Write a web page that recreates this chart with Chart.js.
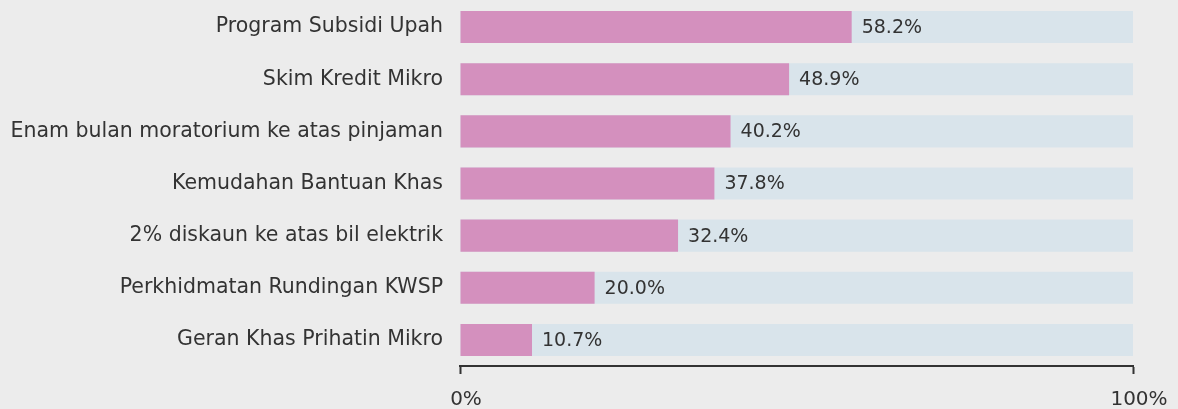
<!DOCTYPE html>
<html>
<head>
<meta charset="utf-8">
<script src="https://cdn.jsdelivr.net/npm/chart.js@4"></script>
<style>
  html, body { margin: 0; padding: 0; background: #ececec; }
  #wrap { width: 1178px; height: 409px; }
</style>
</head>
<body>
<div id="wrap"><canvas id="chart"></canvas></div>
<script>
// survey: use of government aid programmes
const labels = [
  'Program Subsidi Upah',
  'Skim Kredit Mikro',
  'Enam bulan moratorium ke atas pinjaman',
  'Kemudahan Bantuan Khas',
  '2% diskaun ke atas bil elektrik',
  'Perkhidmatan Rundingan KWSP',
  'Geran Khas Prihatin Mikro'
];
const shares = [58.2, 48.9, 40.2, 37.8, 32.4, 20.0, 10.7];
const track = [100, 100, 100, 100, 100, 100, 100];
const xTicks = [0, 100];

const FONT = 'DejaVu Sans';
const TEXT = '#333333';

// draws the value next to the end of each pink bar
const valueLabels = {
  id: 'valueLabels',
  afterDatasetsDraw(chart) {
    const ctx = chart.ctx;
    const meta = chart.getDatasetMeta(0);
    ctx.save();
    ctx.font = '19px "' + FONT + '"';
    ctx.fillStyle = TEXT;
    ctx.textBaseline = 'middle';
    ctx.textAlign = 'left';
    meta.data.forEach((bar, i) => {
      ctx.fillText(shares[i].toFixed(1) + '%', bar.x + 10, bar.y + 1);
    });
    ctx.restore();
  }
};

new Chart(document.getElementById('chart'), {
  type: 'bar',
  data: {
    labels: labels,
    datasets: [
      {
        data: shares,
        backgroundColor: '#d490be',
        grouped: false,
        barPercentage: 0.615,
        categoryPercentage: 1
      },
      {
        data: track,
        backgroundColor: '#d9e4eb',
        grouped: false,
        barPercentage: 0.615,
        categoryPercentage: 1
      }
    ]
  },
  options: {
    indexAxis: 'y',
    responsive: true,
    maintainAspectRatio: false,
    animation: false,
    layout: { padding: { top: 1, right: 45, bottom: 0, left: 0 } },
    plugins: {
      legend: { display: false },
      tooltip: { enabled: false }
    },
    scales: {
      x: {
        min: 0,
        max: 100,
        afterBuildTicks(scale) {
          scale.ticks = xTicks.map(v => ({ value: v }));
        },
        afterFit(scale) {
          scale.height = 43;
          scale.paddingLeft = 0;
          scale.paddingRight = 0;
        },
        grid: {
          drawOnChartArea: false,
          drawTicks: true,
          tickLength: 8,
          tickWidth: 2,
          tickColor: TEXT
        },
        border: { display: true, color: TEXT, width: 2 },
        ticks: {
          color: TEXT,
          font: { family: FONT, size: 20 },
          padding: 14,
          labelOffset: 6,
          maxRotation: 0,
          callback: v => v + '%'
        }
      },
      y: {
        afterFit(scale) {
          scale.width = 460;
          scale.paddingTop = 0;
          scale.paddingBottom = 0;
        },
        grid: { display: false, drawTicks: false },
        border: { display: false },
        ticks: {
          color: TEXT,
          font: { family: FONT, size: 20.5 },
          padding: 17
        }
      }
    }
  },
  plugins: [valueLabels]
});
</script>
</body>
</html>
